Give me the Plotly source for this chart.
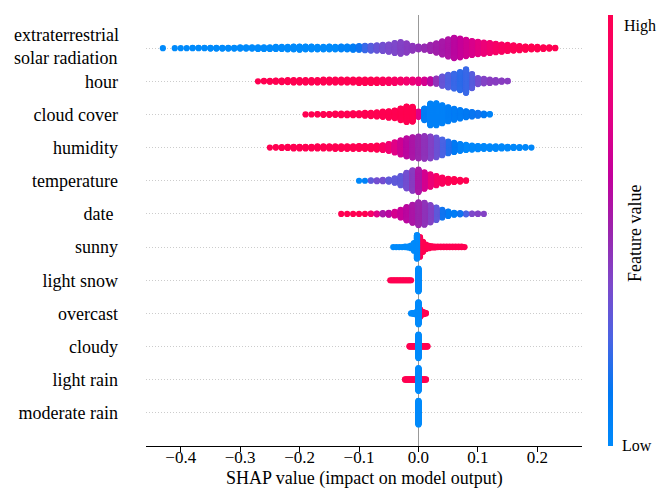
import math
import plotly.graph_objects as go

# ---------------- data ----------------
# Row labels, bottom to top (the top row label is drawn as a two-line annotation)
ROW_LABELS = ["moderate rain", "light rain", "cloudy", "overcast", "light snow",
              "sunny", "date ", "temperature", "humidity", "cloud cover", "hour", ""]
TOP_LABEL = "extraterrestrial<br>solar radiation"

# Each feature: histogram of SHAP values (first bin centre, bin width,
# number of samples per bin, mean normalised feature value per bin 0=low,1=high)
EXT_START, EXT_STEP = -0.43, 0.01
EXT_COUNTS = [1, 0, 1, 1, 1, 2, 2, 2, 3, 3, 3, 3, 3, 4, 4, 4, 5, 5, 5, 6,
              6, 7, 8, 9, 8, 8, 7, 7, 8, 7, 8, 8, 9, 10, 12, 13, 14, 16, 19, 26,
              30, 24, 13, 8, 9, 16, 24, 34, 44, 52, 48, 42, 36, 32, 29, 26, 22, 19, 16, 14,
              11, 9, 8, 7, 5, 4, 2]
EXT_COLORS = [0.0] * 30 + [0.05, 0.05, 0.10, 0.15, 0.22, 0.28, 0.32, 0.35, 0.37, 0.38,
              0.40, 0.42, 0.44, 0.46, 0.48, 0.50, 0.52, 0.54, 0.56, 0.60,
              0.64, 0.68, 0.72, 0.77, 0.82, 0.86, 0.90, 0.93, 0.95, 0.97,
              0.98, 1.0, 1.0, 1.0, 1.0, 1.0, 1.0]

HOUR_START, HOUR_STEP = -0.27, 0.01
HOUR_COUNTS = [1, 2, 3, 4, 5, 6, 7, 7, 7, 7, 7, 8, 8, 8, 8, 8, 8, 9, 9, 9,
               9, 9, 9, 9, 8, 8, 8, 9, 9, 11, 14, 24, 32, 38, 46, 60, 36, 16, 12, 9,
               7, 4, 2]
HOUR_COLORS = [1.0] * 21 + [0.96, 0.94, 0.92, 0.90, 0.87, 0.83,
               0.78, 0.70, 0.60, 0.45, 0.32, 0.26, 0.22, 0.20, 0.22, 0.28,
               0.35, 0.40, 0.42, 0.42, 0.42, 0.42]

CLOUD_START, CLOUD_STEP = -0.19, 0.01
CLOUD_COUNTS = [1, 1, 2, 3, 3, 4, 5, 5, 6, 6, 8, 9, 11, 14, 17, 20, 30, 40, 38,
                14, 30, 55, 56, 46, 36, 28, 22, 16, 12, 8, 5, 2]
CLOUD_COLORS = [1.0] * 19 + [0.75, 0.10, 0.06, 0.06, 0.06, 0.08, 0.10, 0.10, 0.12,
                0.14, 0.15, 0.12, 0.05]

HUM_START, HUM_STEP = -0.25, 0.01
HUM_COUNTS = [1, 2, 3, 4, 5, 5, 5, 5, 6, 6, 6, 7, 7, 7, 7, 8, 8, 9, 11, 13,
              18, 26, 36, 46, 52, 56, 58, 56, 50, 40, 30, 24, 18, 14, 11, 9, 8, 7, 7, 6,
              5, 4, 3, 2, 1]
HUM_COLORS = [1.0] * 19 + [0.92, 0.85, 0.75, 0.68, 0.60, 0.55,
              0.50, 0.45, 0.40, 0.33, 0.25, 0.18, 0.12, 0.06] + [0.02] * 12

TEMP_START, TEMP_STEP = -0.10, 0.01
TEMP_COUNTS = [1, 1, 2, 3, 4, 6, 12, 24, 40, 52, 57, 42, 32, 24, 16, 11, 8, 5, 2]
TEMP_COLORS = [0.0, 0.05, 0.30, 0.35, 0.35, 0.30, 0.30, 0.30, 0.35, 0.42,
               0.55, 0.70, 0.82, 0.90, 0.95, 0.98, 1.0, 1.0, 1.0]

DATE_START, DATE_STEP = -0.13, 0.01
DATE_COUNTS = [1, 1, 1, 1, 1, 2, 3, 4, 6, 10, 20, 34, 46,
               58, 56, 44, 32, 20, 12, 6, 4, 3, 2, 2, 1]
DATE_COLORS = [1.0, 1.0, 1.0, 1.0, 1.0, 0.90, 0.75, 0.55, 0.60, 0.70, 0.65, 0.60, 0.55,
               0.50, 0.45, 0.40, 0.30, 0.15, 0.10, 0.10, 0.15, 0.25, 0.38, 0.40, 0.40]

SUNNY_START, SUNNY_STEP = -0.0425, 0.005
SUNNY_COUNTS = [1, 1, 1, 1, 2, 3, 8, 20, 60, 50, 26, 12, 7, 4, 3, 2, 2, 2, 2, 2,
                2, 2, 2, 2, 1]
SUNNY_COLORS = [0.0] * 9 + [1.0] * 16

SNOW_START, SNOW_STEP = -0.0475, 0.0025
SNOW_COUNTS = [1] * 15 + [0, 0, 0, 0, 58]
SNOW_COLORS = [1.0] * 15 + [0.0] * 5

OVER_START, OVER_STEP = -0.0125, 0.0025
OVER_COUNTS = [1, 2, 3, 5, 8, 56, 20, 10, 6, 4, 2]
OVER_COLORS = [0.0] * 6 + [1.0] * 5

CLOUDY_START, CLOUDY_STEP = -0.015, 0.0025
CLOUDY_COUNTS = [2, 2, 2, 2, 2, 2, 60, 2, 2, 2, 2, 2, 2]
CLOUDY_COLORS = [1.0] * 6 + [0.0] + [1.0] * 6

RAIN_START, RAIN_STEP = -0.0225, 0.0025
RAIN_COUNTS = [2, 2, 2, 2, 2, 2, 2, 2, 2, 58, 2, 2, 2, 2, 2]
RAIN_COLORS = [1.0] * 9 + [0.0] + [1.0] * 5

MOD_START, MOD_STEP = 0.0, 0.0025
MOD_COUNTS = [60]
MOD_COLORS = [0.0]

FEATURES = [  # bottom to top, same order as ROW_LABELS
    (MOD_START, MOD_STEP, MOD_COUNTS, MOD_COLORS),
    (RAIN_START, RAIN_STEP, RAIN_COUNTS, RAIN_COLORS),
    (CLOUDY_START, CLOUDY_STEP, CLOUDY_COUNTS, CLOUDY_COLORS),
    (OVER_START, OVER_STEP, OVER_COUNTS, OVER_COLORS),
    (SNOW_START, SNOW_STEP, SNOW_COUNTS, SNOW_COLORS),
    (SUNNY_START, SUNNY_STEP, SUNNY_COUNTS, SUNNY_COLORS),
    (DATE_START, DATE_STEP, DATE_COUNTS, DATE_COLORS),
    (TEMP_START, TEMP_STEP, TEMP_COUNTS, TEMP_COLORS),
    (HUM_START, HUM_STEP, HUM_COUNTS, HUM_COLORS),
    (CLOUD_START, CLOUD_STEP, CLOUD_COUNTS, CLOUD_COLORS),
    (HOUR_START, HOUR_STEP, HOUR_COUNTS, HOUR_COLORS),
    (EXT_START, EXT_STEP, EXT_COUNTS, EXT_COLORS),
]

# SHAP red-blue colour map (Lch interpolation, sampled)
SHAP_COLORSCALE = [
    [0.0, "rgb(0,138,251)"], [0.125, "rgb(0,120,243)"], [0.25, "rgb(75,99,227)"],
    [0.375, "rgb(125,73,203)"], [0.5, "rgb(155,36,173)"], [0.625, "rgb(194,0,156)"],
    [0.75, "rgb(224,0,134)"], [0.875, "rgb(245,0,109)"], [1.0, "rgb(255,0,81)"],
]

# ---------------- layout constants ----------------
W, H = 658, 489
ML, MR, MT, MB = 146, 76, 15, 43
X_RANGE = [-0.4584, 0.2751]
LAYER = 0.012          # vertical offset per stacked point (row units)
FONT = "Liberation Serif"

fig = go.Figure()

for row, (start, step, counts, colors) in enumerate(FEATURES):
    bins = []
    for i, (c, col) in enumerate(zip(counts, colors)):
        if c > 0:
            bins.append((c, start + i * step, col))
    bins.sort(key=lambda b: b[0])  # dense columns drawn last
    xs, ys, cs = [], [], []
    for c, v, col in bins:
        for k in range(c):
            off = math.ceil(k / 2) * (1 if k % 2 else -1)
            xs.append(v)
            ys.append(row + off * LAYER)
            cs.append(col)
    fig.add_trace(go.Scatter(
        x=xs, y=ys, mode="markers", hoverinfo="skip", showlegend=False,
        marker=dict(size=6.2, color=cs, colorscale=SHAP_COLORSCALE, cmin=0, cmax=1,
                    line=dict(width=0), showscale=(row == 0),
                    colorbar=dict(thickness=5, len=1, lenmode="fraction", y=0,
                                  yanchor="bottom", ypad=0, x=(608 - ML) / (W - ML - MR),
                                  xanchor="left", xpad=0, outlinewidth=0,
                                  showticklabels=False, ticks="")),
    ))

pw = W - ML - MR
ph = H - MT - MB


def px(xp):
    return (xp - ML) / pw


def py(yp):
    return (H - MB - yp) / ph


def label(text, x, y, size=18, xanchor="left", yanchor="middle", angle=0):
    return dict(text=text, xref="paper", yref="paper", x=px(x), y=py(y),
                xanchor=xanchor, yanchor=yanchor, textangle=angle, showarrow=False,
                align="left", font=dict(family=FONT, size=size, color="black"))


fig.update_layout(
    width=W, height=H, margin=dict(l=ML, r=MR, t=MT, b=MB, autoexpand=False),
    paper_bgcolor="white", plot_bgcolor="white",
    font=dict(family=FONT, size=18, color="black"),
    xaxis=dict(range=X_RANGE, dtick=0.1, tick0=0, tickformat=".1f",
               showgrid=False, zeroline=True, zerolinecolor="#999999", zerolinewidth=1.3,
               showline=True, linecolor="black", linewidth=1.3,
               ticks="outside", ticklen=5, tickcolor="black", tickwidth=1,
               ticklabelstandoff=-10,
               tickfont=dict(family=FONT, size=17, color="black")),
    yaxis=dict(range=[-1, 12], tickvals=list(range(12)), ticktext=ROW_LABELS,
               showgrid=True, gridcolor="#cccccc", gridwidth=1, griddash="1px,2px",
               zeroline=False, showline=False, ticks="", ticklabelstandoff=27,
               automargin=False,
               tickfont=dict(family=FONT, size=18, color="black")),
    annotations=[
        label(TOP_LABEL, 12, 46.5),
        label("SHAP value (impact on model output)", (ML + W - MR) / 2, 478,
              xanchor="center"),
        label("High", 622, 26, size=16),
        label("Low", 620, 445, size=16),
        label("Feature value", 635, 234, xanchor="center", angle=-90),
    ],
)

fig.write_html("out.html", config={"displayModeBar": False},
               post_script="document.body.style.margin='0';")
